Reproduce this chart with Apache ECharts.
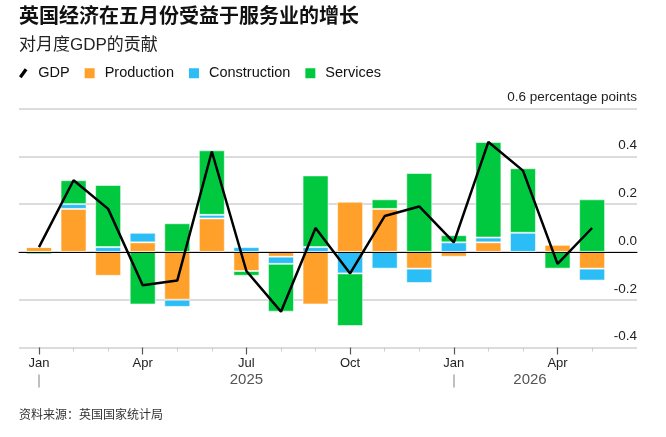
<!DOCTYPE html>
<html lang="zh-cn">
<head>
    <meta charset="UTF-8">
    <title>英国经济在五月份受益于服务业的增长</title>
    <script src="https://cdn.jsdelivr.net/npm/echarts@6/dist/echarts.min.js"></script>
    <style>
      html, body { margin: 0; padding: 0; background: #fff; }
    </style>
</head>
<body>
    <div id="main" style="width: 666px;height:437px;"></div>
</body>

<script>
  // 月份（2025年1月 - 2026年5月）
  const months = ['Jan', 'Feb', 'Mar', 'Apr', 'May', 'Jun', 'Jul', 'Aug', 'Sep', 'Oct', 'Nov', 'Dec',
                  'Jan', 'Feb', 'Mar', 'Apr', 'May']
  const years = { 6: '2025', 14: '2026' }
  // 各部门对月度GDP的贡献（百分点）
  const production = [0.02, 0.18, -0.10, 0.04, -0.20, 0.14, -0.08, -0.02, -0.22, 0.21, 0.18, -0.07, -0.02, 0.04, 0, 0.03, -0.07]
  const construction = [0, 0.02, 0.02, 0.04, -0.03, 0.015, 0.02, -0.03, 0.02, -0.09, -0.07, -0.06, 0.04, 0.02, 0.08, 0, -0.05]
  const services = [-0.01, 0.10, 0.26, -0.22, 0.12, 0.27, -0.02, -0.20, 0.30, -0.22, 0.04, 0.33, 0.03, 0.40, 0.27, -0.07, 0.22]
  const gdp = [0.02, 0.30, 0.18, -0.14, -0.12, 0.42, -0.08, -0.25, 0.10, -0.09, 0.15, 0.19, 0.04, 0.46, 0.34, -0.05, 0.10]

  const FONT = '"Liberation Sans", Arial, "Noto Sans CJK SC", sans-serif'
  const colors = { Production: '#ffa02a', Construction: '#2bbdf6', Services: '#00c940' }

  const myChart = echarts.init(document.getElementById('main'))

  const barStyle = {
    borderColor: 'rgba(255,255,255,0.55)',
    borderWidth: 1
  }

  function barSeries(name, data) {
    return {
      name: name,
      type: 'bar',
      stack: 'total',
      xAxisIndex: 1,
      yAxisIndex: 1,
      barWidth: 26,
      itemStyle: { color: colors[name], ...barStyle },
      data: data
    }
  }

  // 隐形轴线（只用刻度）
  const hiddenLine = { show: true, onZero: false, lineStyle: { color: '#fff', opacity: 0, width: 0 } }

  const option = {
    animation: false,
    textStyle: { fontFamily: FONT },
    title: [
      {
        text: '英国经济在五月份受益于服务业的增长',
        left: 19, top: 7, padding: 0,
        textStyle: { fontSize: 20, fontWeight: 'bold', color: '#111', fontFamily: FONT }
      },
      {
        text: '对月度GDP的贡献',
        left: 19, top: 37, padding: 0,
        textStyle: { fontSize: 17, fontWeight: 'normal', color: '#222', fontFamily: FONT }
      },
      {
        text: '资料来源：英国国家统计局',
        left: 19, top: 410, padding: 0,
        textStyle: { fontSize: 12, fontWeight: 'normal', color: '#333', fontFamily: FONT }
      }
    ],
    legend: {
      left: 19, top: 66, padding: 0,
      itemWidth: 10, itemHeight: 10, itemGap: 15,
      itemStyle: { borderWidth: 0 },
      lineStyle: { width: 0 },
      textStyle: { fontSize: 14.5, color: '#111', fontFamily: FONT, padding: [0, 0, 0, 5] },
      data: [
        { name: 'GDP', icon: 'path://M0,7.5 L5.5,0 L8,2 L2.5,9.5 Z' },
        { name: 'Production', icon: 'rect' },
        { name: 'Construction', icon: 'rect' },
        { name: 'Services', icon: 'rect' }
      ]
    },
    grid: [
      { left: 19, right: 29, top: 108.5, bottom: 89.5 },
      { left: 21.7, right: 56.6, top: 108.5, bottom: 89.5 }
    ],
    xAxis: [
      {
        // 零线
        gridIndex: 0, type: 'value', min: 0, max: 1, z: 5,
        axisLine: { show: true, onZero: true, lineStyle: { color: '#000', width: 1 } },
        axisTick: { show: false }, axisLabel: { show: false }, splitLine: { show: false }
      },
      {
        // 小刻度
        gridIndex: 1, type: 'category', data: months, position: 'bottom',
        axisLine: hiddenLine,
        axisTick: { show: true, alignWithLabel: true, length: 4, lineStyle: { color: '#ccc', width: 1 } },
        axisLabel: { show: false }
      },
      {
        // 季度刻度和月份标签
        gridIndex: 1, type: 'category', data: months, position: 'bottom',
        axisLine: hiddenLine,
        axisTick: {
          show: true, alignWithLabel: true, length: 7,
          interval: (i) => i % 3 === 0,
          lineStyle: { color: '#555', width: 1.2 }
        },
        axisLabel: {
          interval: (i) => i % 3 === 0,
          fontSize: 13, color: '#222', margin: 9, fontFamily: FONT
        }
      },
      {
        // 年份分隔线
        gridIndex: 1, type: 'category', data: months, position: 'bottom', offset: 27,
        axisLine: hiddenLine,
        axisTick: {
          show: true, alignWithLabel: true, length: 13,
          interval: (i) => i === 0 || i === 12,
          lineStyle: { color: '#aaa', width: 1.5 }
        },
        axisLabel: { show: false }
      },
      {
        // 年份标签
        gridIndex: 1, type: 'category', data: months, position: 'bottom',
        axisLine: { show: false, onZero: false },
        axisTick: { show: false },
        axisLabel: {
          interval: (i) => years[i] !== undefined,
          formatter: (v, i) => i === 14 ? '{b|' + years[i] + '}' : years[i],
          fontSize: 15, color: '#555', margin: 25, fontFamily: FONT,
          rich: { b: { fontSize: 15, color: '#555', padding: [0, 0, 0, 14], fontFamily: FONT } }
        }
      }
    ],
    yAxis: [
      {
        gridIndex: 0, type: 'value', position: 'right',
        min: -0.4, max: 0.6, interval: 0.2,
        axisLine: { show: false }, axisTick: { show: false },
        splitLine: { show: true, lineStyle: { color: '#dcdcdc', width: 2 } },
        axisLabel: {
          inside: true, margin: 0,
          fontSize: 13.5, color: '#222', fontFamily: FONT,
          verticalAlign: 'bottom', padding: [0, 0, 4, 0],
          formatter: (v) => {
            const s = v.toFixed(1)
            return Math.abs(v - 0.6) < 1e-6 ? s + ' percentage points' : s
          }
        }
      },
      {
        gridIndex: 1, type: 'value', min: -0.4, max: 0.6, interval: 0.2, show: false
      }
    ],
    series: [
      {
        name: 'GDP',
        type: 'line',
        xAxisIndex: 1,
        yAxisIndex: 1,
        z: 6,
        symbol: 'none',
        itemStyle: { color: '#000' },
        lineStyle: { color: '#000', width: 2.5 },
        data: gdp
      },
      barSeries('Production', production),
      barSeries('Construction', construction),
      barSeries('Services', services)
    ]
  }

  myChart.setOption(option)
</script>

</html>
